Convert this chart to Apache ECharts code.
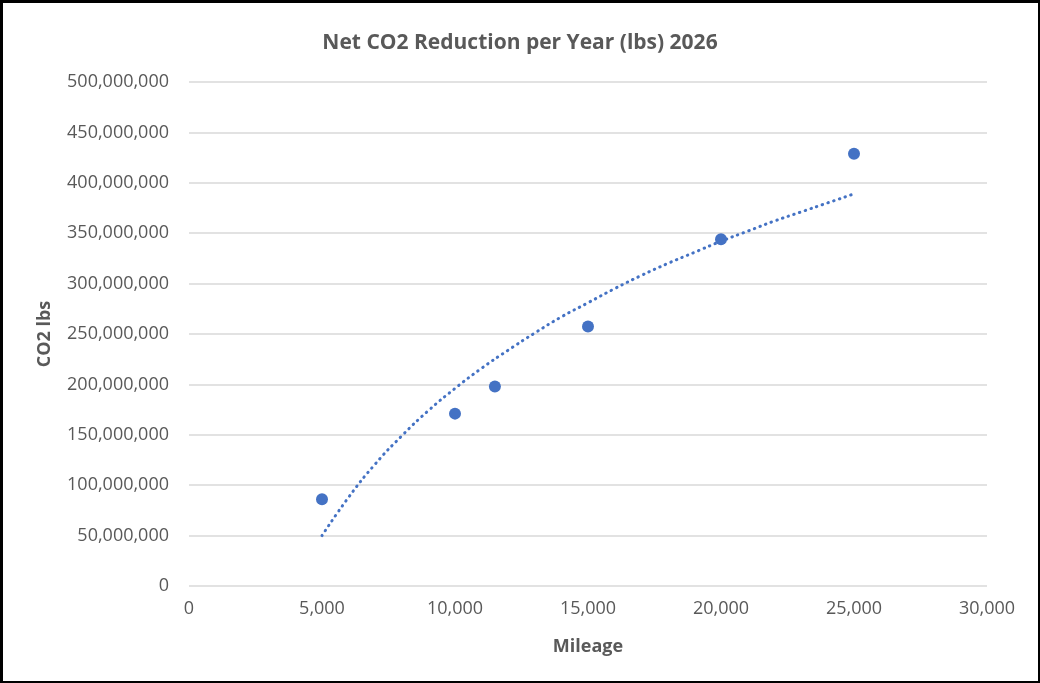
<!DOCTYPE html>
<html>
<head>
<meta charset="utf-8">
<script src="https://cdn.jsdelivr.net/npm/echarts@6/dist/echarts.min.js"></script>
<style>
html,body{margin:0;padding:0;background:#fff;}
#frame{position:absolute;left:0;top:0;width:1040px;height:683px;box-sizing:border-box;border-style:solid;border-color:#000;border-width:3px 2px 2px 3px;}
#chart{position:absolute;left:0;top:0;width:1040px;height:683px;}
</style>
</head>
<body>
<div id="chart"></div>
<div id="frame"></div>
<script>
const titleText = "Net CO2 Reduction per Year (lbs) 2026";
const xAxisName = "Mileage";
const yAxisName = "CO2 lbs";
const mileage = [5000, 10000, 11500, 15000, 20000, 25000];
const co2Lbs = [86000000, 171000000, 198000000, 257500000, 344000000, 428800000];
const trendMileage = [5000, 6000, 7000, 8000, 9000, 10000, 11000, 12000, 13000, 14000, 15000, 16000, 17000, 18000, 19000, 20000, 21000, 22000, 23000, 24000, 25000];
const trendCo2 = [50000000, 88000000, 121000000, 149000000, 174000000, 196000000, 216000000, 234000000, 251000000, 267000000, 281000000, 295000000, 308000000, 320000000, 331000000, 342000000, 352000000, 362000000, 371000000, 380000000, 389000000];

const fmt = v => Math.round(v).toString().replace(/\B(?=(\d{3})+(?!\d))/g, ",");
const FONT = "'Open Sans', sans-serif";
const chart = echarts.init(document.getElementById('chart'), null, {renderer:'canvas'});
chart.setOption({
  animation:false,
  backgroundColor:'#fff',
  title:{
    text:titleText, left:'center', top:28,
    textStyle:{fontFamily:FONT, fontSize:21, fontWeight:'bold', color:'#595959'}
  },
  grid:{left:189, right:53, top:82, bottom:97},
  xAxis:{
    type:'value', min:0, max:30000, interval:5000,
    name:xAxisName, nameLocation:'middle', nameGap:52,
    nameTextStyle:{fontFamily:FONT, fontSize:18, fontWeight:'bold', color:'#595959'},
    axisLine:{show:false}, axisTick:{show:false},
    axisLabel:{formatter:fmt, fontFamily:FONT, fontSize:18, color:'#595959', margin:14},
    splitLine:{show:false}
  },
  yAxis:{
    type:'value', min:0, max:500000000, interval:50000000,
    name:yAxisName, nameLocation:'middle', nameGap:135, nameRotate:90,
    nameTextStyle:{fontFamily:FONT, fontSize:18, fontWeight:'bold', color:'#595959'},
    axisLine:{show:false}, axisTick:{show:false},
    axisLabel:{formatter:fmt, fontFamily:FONT, fontSize:18, color:'#595959', margin:20},
    splitLine:{show:true, lineStyle:{color:'#d9d9d9', width:1.5}}
  },
  series:[
    {
      type:'line', data:trendMileage.map((x,i)=>[x, trendCo2[i]]),
      smooth:true, showSymbol:false, symbol:'none',
      lineStyle:{color:'#4472C4', width:3, type:[0.5,5.5], cap:'round'},
      z:2
    },
    {
      type:'scatter', data:mileage.map((x,i)=>[x, co2Lbs[i]]),
      symbol:'circle', symbolSize:12,
      itemStyle:{color:'#4472C4', opacity:1},
      z:3
    }
  ]
});
</script>
</body>
</html>
